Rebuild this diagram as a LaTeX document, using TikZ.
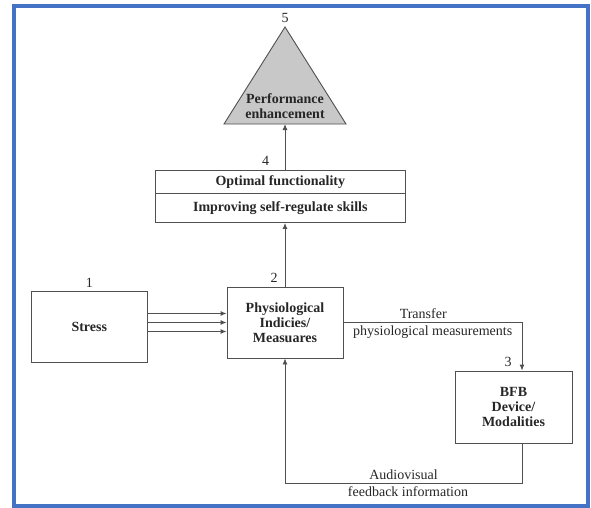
\documentclass[tikz,border=0pt]{standalone}
\usepackage{fontspec}
\setmainfont{Liberation Serif}
\usetikzlibrary{arrows.meta, positioning}
\definecolor{frameblue}{RGB}{68,114,196}
\definecolor{linegray}{RGB}{80,80,80}
\definecolor{trigray}{RGB}{200,200,200}

\begin{document}
\begin{tikzpicture}[
    x=1pt, y=-1pt,
    font=\fontsize{14}{15}\selectfont,
    box/.style={rectangle, draw=linegray, line width=0.9pt, align=center, inner sep=0pt, text=black!85, font=\fontsize{14}{15}\selectfont\bfseries},
    num/.style={inner sep=4pt, anchor=south, text=black!85},
    lbl/.style={inner sep=3pt, text=black!85},
    arrow/.style={-{Latex[length=6pt, width=5pt]}, draw=linegray, line width=0.9pt}
]

% Frame
\useasboundingbox (0,0) rectangle (591,508);
\draw[frameblue, line width=4pt] (14,6) rectangle (588,506);

% Performance triangle
\draw[linegray, fill=trigray, line width=0.9pt] (285,27) -- (346,124) -- (224,124) -- cycle;
\coordinate (perftop) at (285,27);
\coordinate (perfbase) at (285,124);
\node[box, draw=none] (perf) at (285,106) {Performance\\enhancement};

% Boxes
\node[box, minimum width=250.5pt, minimum height=22.5pt] (optfun) at (280.3,181.75) {Optimal functionality};
\node[box, minimum width=250.5pt, minimum height=29.5pt] (selfreg) at (280.3,207.75) {Improving self-regulate skills};
\node[box, minimum width=115.3pt, minimum height=70.3pt] (stress) at (89.3,327) {Stress};
\node[box, minimum width=116pt, minimum height=71pt] (phys) at (285,322.5) {Physiological\\Indicies/\\Measuares};
\node[box, minimum width=117pt, minimum height=72pt] (bfb) at (513.5,407) {BFB\\Device/\\Modalities};

% Numbers
\node[num] (n1) at (stress.north) {1};
\node[num] (n2) at ([xshift=-11pt]phys.north) {2};
\node[num] (n3) at ([xshift=-5.5pt]bfb.north) {3};
\node[num] (n4) at ([xshift=-14.6pt]optfun.north) {4};
\node[num] (n5) at (perftop) {5};

% Arrows
\foreach \dy in {-9,0,9}
  \draw[arrow] ([yshift=\dy pt]phys.west -| stress.east) -- ([yshift=\dy pt]phys.west);
\draw[arrow] (phys.north) -- (phys.north |- selfreg.south);
\draw[arrow] (phys.north |- optfun.north) -- (perfbase);
\draw[arrow] (phys.east) -| node[lbl, pos=0.25, above, xshift=-9.5pt] {Transfer}
  node[lbl, pos=0.25, below] {physiological measurements} ([xshift=8.5pt]bfb.north);
\draw[arrow] ([xshift=8.5pt]bfb.south) -- ++(0,40) -| node[lbl, pos=0.25, above] {Audiovisual}
  node[lbl, pos=0.25, below, xshift=4.5pt] {feedback information} (phys.south);

\end{tikzpicture}
\end{document}
